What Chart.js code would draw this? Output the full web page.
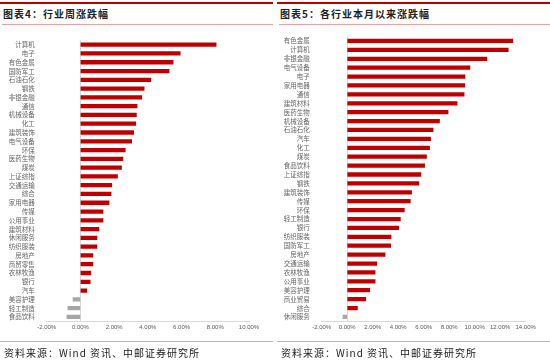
<!DOCTYPE html>
<html>
<head>
<meta charset="utf-8">
<script src="https://cdn.jsdelivr.net/npm/chart.js@4"></script>
<style>
  body { margin: 0; background: #fff; width: 550px; height: 363px; position: relative; overflow: hidden;
         font-family: "Noto Sans CJK SC", "Noto Sans", sans-serif; }
  .panel { position: absolute; top: 0; width: 273px; height: 363px; }
  .topline { position: absolute; top: 2px; left: 0; right: 0; height: 2px; background: #c00000; }
  .title { position: absolute; top: 6px; left: 3px; font-size: 10px; font-weight: bold; color: #222; letter-spacing: 1px; }
  .midline { position: absolute; top: 24px; left: 2px; right: 0; height: 1px; background: #e8a0a0; }
  .botline { position: absolute; top: 341px; left: 0; right: 0; height: 1px; background: #e8a0a0; }
  .source { position: absolute; top: 345px; left: 4px; font-size: 10px; color: #222; letter-spacing: 1px; }
  canvas { position: absolute; top: 0; left: 0; }
</style>
</head>
<body>
<div class="panel" style="left:0">
  <div class="topline"></div>
  <div class="title">图表4：行业周涨跌幅</div>
  <div class="midline"></div>
  <canvas id="weekChart" width="273" height="363"></canvas>
  <div class="botline"></div>
  <div class="source">资料来源：Wind 资讯、中邮证券研究所</div>
</div>
<div class="panel" style="left:277px">
  <div class="topline"></div>
  <div class="title">图表5：各行业本月以来涨跌幅</div>
  <div class="midline"></div>
  <canvas id="monthChart" width="273" height="363"></canvas>
  <div class="botline"></div>
  <div class="source">资料来源：Wind 资讯、中邮证券研究所</div>
</div>
<script>
// weekly change by industry (%)
const weekCategories = ['计算机', '电子', '有色金属', '国防军工', '石油石化', '钢铁', '非银金融', '通信',
  '机械设备', '化工', '建筑装饰', '电气设备', '环保', '医药生物', '煤炭', '上证综指', '交通运输', '综合',
  '家用电器', '传媒', '公用事业', '建筑材料', '休闲服务', '纺织服装', '房地产', '商贸零售', '农林牧渔',
  '银行', '汽车', '美容护理', '轻工制造', '食品饮料'];
const weekValues = [8.05, 5.92, 5.50, 5.26, 4.18, 3.78, 3.64, 3.36, 3.32, 3.28, 3.16, 3.04, 2.66, 2.52,
  2.44, 2.20, 1.86, 1.82, 1.70, 1.34, 1.34, 1.10, 0.98, 0.98, 0.74, 0.74, 0.62, 0.58, 0.38, -0.44, -0.74, -0.80];

// month-to-date change by industry (%)
const monthCategories = ['有色金属', '计算机', '非银金融', '电气设备', '电子', '家用电器', '通信', '建筑材料',
  '医药生物', '机械设备', '石油石化', '汽车', '化工', '煤炭', '食品饮料', '上证综指', '钢铁', '建筑装饰',
  '传媒', '环保', '轻工制造', '银行', '纺织服装', '国防军工', '房地产', '交通运输', '农林牧渔', '公用事业',
  '美容护理', '商业贸易', '综合', '休闲服务'];
const monthValues = [12.99, 12.63, 10.96, 9.63, 9.24, 9.22, 9.17, 8.62, 7.91, 7.24, 6.74, 6.54, 6.46, 6.22,
  6.07, 5.78, 5.62, 5.05, 4.95, 4.48, 4.17, 4.04, 3.44, 3.41, 2.97, 2.32, 2.19, 2.19, 1.77, 1.46, 0.80, -0.33];

const weekTicks = { min: -2, max: 10, step: 2 };
const monthTicks = { min: -2, max: 14, step: 2 };

function makeChart(id, labels, values, ticks, pad, labelWidth) {
  new Chart(document.getElementById(id), {
    type: 'bar',
    data: {
      labels: labels,
      datasets: [{
        data: values,
        backgroundColor: values.map(v => v < 0 ? '#a6a6a6' : '#c00000'),
        barThickness: 3.6
      }]
    },
    options: {
      indexAxis: 'y',
      responsive: false,
      animation: false,
      layout: { padding: pad },
      plugins: { legend: { display: false }, tooltip: { enabled: false } },
      scales: {
        x: {
          min: ticks.min, max: ticks.max,
          ticks: {
            stepSize: ticks.step,
            color: '#595959',
            font: { size: 6, family: 'Liberation Sans, Arial, sans-serif' },
            padding: 2,
            maxRotation: 0,
            callback: v => v.toFixed(2) + '%'
          },
          grid: {
            color: c => c.tick && c.tick.value === 0 ? '#d9d9d9' : 'rgba(0,0,0,0)',
            drawTicks: false
          },
          border: { display: true, color: '#d9d9d9' },
          afterFit: s => { s.height = 14; }
        },
        y: {
          ticks: {
            color: '#666',
            font: { size: 6.5, family: 'Noto Sans CJK SC' },
            padding: 4,
            autoSkip: false
          },
          grid: { display: false },
          border: { display: false },
          afterFit: s => { s.width = labelWidth; }
        }
      }
    }
  });
}

makeChart('weekChart', weekCategories, weekValues, weekTicks, { top: 40.3, bottom: 27.7, left: 0, right: 24 }, 46.7);
makeChart('monthChart', monthCategories, monthValues, monthTicks, { top: 36.5, bottom: 27.6, left: 0, right: 24.3 }, 44.7);
</script>
</body>
</html>
